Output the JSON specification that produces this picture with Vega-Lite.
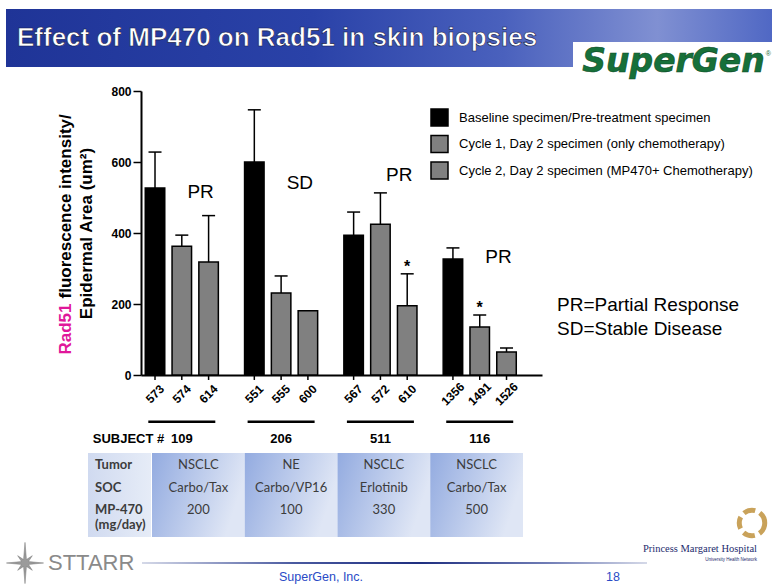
{
  "$schema": "https://vega.github.io/schema/vega-lite/v6.json",
  "width": 780,
  "height": 585,
  "autosize": {"type": "none"},
  "padding": 0,
  "background": "#ffffff",
  "config": {"font": "Liberation Sans", "view": {"stroke": null}, "axis": {"grid": false}},
  "datasets": {
    "bars": [
      {"subject": "109", "specimen": "573", "cycle": "Baseline specimen/Pre-treatment specimen", "value": 527, "upper": 628},
      {"subject": "109", "specimen": "574", "cycle": "Cycle 1, Day 2 specimen (only chemotherapy)", "value": 363, "upper": 394},
      {"subject": "109", "specimen": "614", "cycle": "Cycle 2, Day 2 specimen (MP470+ Chemotherapy)", "value": 318, "upper": 449},
      {"subject": "206", "specimen": "551", "cycle": "Baseline specimen/Pre-treatment specimen", "value": 600, "upper": 747},
      {"subject": "206", "specimen": "555", "cycle": "Cycle 1, Day 2 specimen (only chemotherapy)", "value": 231, "upper": 279},
      {"subject": "206", "specimen": "600", "cycle": "Cycle 2, Day 2 specimen (MP470+ Chemotherapy)", "value": 181, "upper": null},
      {"subject": "511", "specimen": "567", "cycle": "Baseline specimen/Pre-treatment specimen", "value": 394, "upper": 459},
      {"subject": "511", "specimen": "572", "cycle": "Cycle 1, Day 2 specimen (only chemotherapy)", "value": 425, "upper": 513},
      {"subject": "511", "specimen": "610", "cycle": "Cycle 2, Day 2 specimen (MP470+ Chemotherapy)", "value": 195, "upper": 285, "sig": "*"},
      {"subject": "116", "specimen": "1356", "cycle": "Baseline specimen/Pre-treatment specimen", "value": 327, "upper": 358},
      {"subject": "116", "specimen": "1491", "cycle": "Cycle 1, Day 2 specimen (only chemotherapy)", "value": 135, "upper": 169, "sig": "*"},
      {"subject": "116", "specimen": "1526", "cycle": "Cycle 2, Day 2 specimen (MP470+ Chemotherapy)", "value": 65, "upper": 76}
    ],
    "responses": [
      {"subject": "109", "cycle": "Cycle 2, Day 2 specimen (MP470+ Chemotherapy)", "response": "PR", "level": 515},
      {"subject": "206", "cycle": "Cycle 2, Day 2 specimen (MP470+ Chemotherapy)", "response": "SD", "level": 541},
      {"subject": "511", "cycle": "Cycle 2, Day 2 specimen (MP470+ Chemotherapy)", "response": "PR", "level": 563},
      {"subject": "116", "cycle": "Cycle 2, Day 2 specimen (MP470+ Chemotherapy)", "response": "PR", "level": 333}
    ],
    "regimens": [
      {"subject": "109", "item": "Tumor", "entry": "NSCLC"},
      {"subject": "206", "item": "Tumor", "entry": "NE"},
      {"subject": "511", "item": "Tumor", "entry": "NSCLC"},
      {"subject": "116", "item": "Tumor", "entry": "NSCLC"},
      {"subject": "109", "item": "SOC", "entry": "Carbo/Tax"},
      {"subject": "206", "item": "SOC", "entry": "Carbo/VP16"},
      {"subject": "511", "item": "SOC", "entry": "Erlotinib"},
      {"subject": "116", "item": "SOC", "entry": "Carbo/Tax"},
      {"subject": "109", "item": "MP-470", "entry": "200"},
      {"subject": "206", "item": "MP-470", "entry": "100"},
      {"subject": "511", "item": "MP-470", "entry": "330"},
      {"subject": "116", "item": "MP-470", "entry": "500"}
    ],
    "rowlabels": [
      {"item": "Tumor", "label": "Tumor"},
      {"item": "SOC", "label": "SOC"},
      {"item": "MP-470", "label": "MP-470\n(mg/day)"}
    ]
  },
  "resolve": {
    "scale": {"x": "independent", "y": "independent", "color": "independent", "opacity": "independent"},
    "axis": {"x": "independent", "y": "independent"}
  },
  "layer": [
    {
      "data": {"values": [{"heading": "Effect of MP470 on Rad51 in skin biopsies"}]},
      "encoding": {
        "x": {"field": "heading", "type": "nominal", "scale": {"type": "band", "range": [6, 772], "paddingInner": 0, "paddingOuter": 0}, "axis": null},
        "y": {"field": "heading", "type": "nominal", "scale": {"type": "band", "range": [9, 67], "paddingInner": 0, "paddingOuter": 0}, "axis": null}
      },
      "layer": [
        {"mark": {"type": "rect", "fill": {"gradient": "linear", "x1": 0, "y1": 0, "x2": 1, "y2": 0, "stops": [
          {"offset": 0, "color": "#1f3497"}, {"offset": 0.4, "color": "#2a42a8"}, {"offset": 0.65, "color": "#4a61bd"}, {"offset": 0.85, "color": "#8090d2"}, {"offset": 1, "color": "#5068c4"}]}}},
        {"mark": {"type": "text", "align": "left", "baseline": "middle", "fontSize": 26, "fontWeight": "bold", "fill": "#ffffff", "stroke": "#10164a", "strokeWidth": 0.6, "dx": 11, "dy": 0},
         "encoding": {"x": {"field": "heading", "type": "nominal", "bandPosition": 0, "axis": null}, "text": {"field": "heading"}}}
      ]
    },
    {
      "data": {"values": [{"brand": "SuperGen"}]},
      "encoding": {
        "x": {"field": "brand", "type": "nominal", "scale": {"type": "band", "range": [573, 772], "paddingInner": 0, "paddingOuter": 0}, "axis": null},
        "y": {"field": "brand", "type": "nominal", "scale": {"type": "band", "range": [42, 79], "paddingInner": 0, "paddingOuter": 0}, "axis": null}
      },
      "layer": [
        {"mark": {"type": "rect", "fill": "#ffffff"}},
        {"mark": {"type": "text", "font": "DejaVu Sans", "fontSize": 33, "fontWeight": "bold", "fontStyle": "italic", "fill": "#16703a", "stroke": "#0d4a25", "strokeWidth": 0.6, "align": "center", "baseline": "middle", "dx": 1, "dy": 1},
         "encoding": {"text": {"field": "brand"}}},
        {"mark": {"type": "text", "text": "®", "fontSize": 7, "fill": "#16703a", "align": "right", "baseline": "top", "dx": -1, "dy": 8},
         "encoding": {"x": {"field": "brand", "type": "nominal", "bandPosition": 1, "axis": null}, "y": {"field": "brand", "type": "nominal", "bandPosition": 0, "axis": null}}}
      ]
    },
    {
      "data": {"name": "bars"},
      "resolve": {"axis": {"y": "independent"}},
      "layer": [
        {
          "mark": {"type": "bar", "stroke": "#000000", "strokeWidth": 1.5},
          "encoding": {
            "x": {"field": "subject", "type": "nominal",
              "scale": {"type": "band", "domain": ["109", "206", "511", "116"], "range": [141, 542], "paddingInner": 0.264, "paddingOuter": 0.151, "align": 0.142},
              "axis": {"orient": "bottom", "offset": -210, "domainColor": "#000000", "domainWidth": 2, "ticks": false, "tickSize": 0, "labelAngle": 0, "labelPadding": 63, "labelBaseline": "middle", "labelFontSize": 13, "labelFontWeight": "bold", "labelColor": "#000000",
                "title": "SUBJECT #", "titleX": 128, "titleY": 63, "titleAlign": "center", "titleBaseline": "middle", "titleFontSize": 13, "titleFontWeight": "bold", "titleColor": "#000000"}},
            "xOffset": {"field": "cycle", "type": "nominal",
              "scale": {"domain": ["Baseline specimen/Pre-treatment specimen", "Cycle 1, Day 2 specimen (only chemotherapy)", "Cycle 2, Day 2 specimen (MP470+ Chemotherapy)"], "paddingInner": 0.272, "paddingOuter": 0}},
            "y": {"field": "value", "type": "quantitative",
              "scale": {"domain": [0, 800], "range": [375, 91], "nice": false, "zero": false},
              "axis": {"orient": "left", "offset": -141, "values": [0, 200, 400, 600, 800], "domainColor": "#000000", "domainWidth": 2, "tickColor": "#000000", "tickWidth": 1.5, "tickSize": 8, "labelPadding": 2, "labelFontSize": 12, "labelFontWeight": "bold", "labelColor": "#000000",
                "title": "Epidermal Area (um²)", "titleFontSize": 17, "titleFontWeight": "bold", "titleColor": "#000000", "titleAngle": 270, "titleAlign": "center", "titleBaseline": "middle", "titleX": -55, "titleY": 233}},
            "color": {"field": "cycle", "type": "nominal",
              "scale": {"domain": ["Baseline specimen/Pre-treatment specimen", "Cycle 1, Day 2 specimen (only chemotherapy)", "Cycle 2, Day 2 specimen (MP470+ Chemotherapy)"], "range": ["#000000", "#808080", "#808080"]},
              "legend": {"orient": "none", "legendX": 430, "legendY": 108, "title": null, "padding": 0, "symbolType": "square", "symbolSize": 289, "symbolStrokeColor": "#000000", "symbolStrokeWidth": 1.5, "labelFontSize": 13, "labelColor": "#000000", "labelOffset": 10, "rowPadding": 3.5, "labelLimit": 400}}
          }
        },
        {
          "transform": [{"filter": "datum.upper != null"}],
          "mark": {"type": "rule", "color": "#000000", "strokeWidth": 1.5},
          "encoding": {
            "x": {"field": "subject", "type": "nominal"},
            "xOffset": {"field": "cycle", "type": "nominal"},
            "y": {"field": "value", "type": "quantitative",
              "axis": {"orient": "left", "offset": -141, "labels": false, "ticks": false, "domain": false, "grid": false,
                "title": "Rad51", "titleColor": "#e0179a", "titleFontSize": 17, "titleFontWeight": "bold", "titleAngle": 270, "titleAlign": "right", "titleBaseline": "middle", "titleX": -76, "titleY": 303}},
            "y2": {"field": "upper"}
          }
        },
        {
          "transform": [{"filter": "datum.upper != null"}],
          "mark": {"type": "tick", "orient": "horizontal", "color": "#000000", "thickness": 1.5, "size": 13, "opacity": 1},
          "encoding": {
            "x": {"field": "subject", "type": "nominal"},
            "xOffset": {"field": "cycle", "type": "nominal"},
            "y": {"field": "upper", "type": "quantitative",
              "axis": {"orient": "left", "offset": -141, "labels": false, "ticks": false, "domain": false, "grid": false,
                "title": "fluorescence intensity/", "titleColor": "#000000", "titleFontSize": 17, "titleFontWeight": "bold", "titleAngle": 270, "titleAlign": "left", "titleBaseline": "middle", "titleX": -76, "titleY": 298}}
          }
        },
        {
          "mark": {"type": "rule", "color": "#000000", "strokeWidth": 1.5},
          "encoding": {
            "x": {"field": "subject", "type": "nominal"},
            "xOffset": {"field": "cycle", "type": "nominal"},
            "y": {"datum": 0, "type": "quantitative", "axis": null},
            "y2": {"datum": -14}
          }
        },
        {
          "mark": {"type": "text", "angle": 315, "align": "center", "baseline": "middle", "fontSize": 12, "fontWeight": "bold", "fill": "#000000", "dx": -13.5, "dy": 13.5},
          "encoding": {
            "x": {"field": "subject", "type": "nominal"},
            "xOffset": {"field": "cycle", "type": "nominal"},
            "y": {"datum": 0, "type": "quantitative", "axis": null},
            "text": {"field": "specimen"}
          }
        },
        {
          "transform": [{"filter": {"field": "cycle", "equal": "Baseline specimen/Pre-treatment specimen"}}],
          "mark": {"type": "tick", "orient": "horizontal", "color": "#000000", "thickness": 2.5, "size": 67, "opacity": 1},
          "encoding": {
            "x": {"field": "subject", "type": "nominal"},
            "y": {"datum": -132, "type": "quantitative", "axis": null}
          }
        },
        {
          "data": {"name": "responses"},
          "mark": {"type": "text", "fontSize": 19, "fill": "#000000", "align": "center", "baseline": "middle", "dx": -8},
          "encoding": {
            "x": {"field": "subject", "type": "nominal"},
            "xOffset": {"field": "cycle", "type": "nominal"},
            "y": {"field": "level", "type": "quantitative", "axis": null},
            "text": {"field": "response"},
            "opacity": {"field": "response", "type": "nominal", "scale": {"domain": ["PR", "SD"], "range": [1, 1]},
              "legend": {"orient": "none", "legendX": 538, "legendY": 295, "title": null, "padding": 0, "symbolSize": 0, "symbolStrokeWidth": 0, "symbolOpacity": 0, "labelFontSize": 19, "labelColor": "#000000", "labelOffset": 0, "rowPadding": 4, "labelLimit": 300,
                "labelExpr": "datum.label == 'PR' ? 'PR=Partial Response' : 'SD=Stable Disease'"}}
          }
        },
        {
          "transform": [{"filter": "datum.sig != null"}],
          "mark": {"type": "text", "fontSize": 16, "fontWeight": "bold", "fill": "#000000", "align": "center", "baseline": "alphabetic", "dy": -2},
          "encoding": {
            "x": {"field": "subject", "type": "nominal"},
            "xOffset": {"field": "cycle", "type": "nominal"},
            "y": {"field": "upper", "type": "quantitative", "axis": null},
            "text": {"field": "sig"}
          }
        }
      ]
    },
    {
      "data": {"values": [{"column": "labels"}]},
      "mark": {"type": "rect", "fill": {"gradient": "linear", "x1": 0, "y1": 0, "x2": 1, "y2": 0, "stops": [{"offset": 0, "color": "#d0daf0"}, {"offset": 1, "color": "#e6ecf7"}]}},
      "encoding": {
        "x": {"field": "column", "type": "nominal", "scale": {"type": "band", "range": [88, 151], "paddingInner": 0, "paddingOuter": 0}, "axis": null},
        "y": {"field": "column", "type": "nominal", "scale": {"type": "band", "range": [453, 537], "paddingInner": 0, "paddingOuter": 0}, "axis": null}
      }
    },
    {
      "data": {"name": "regimens"},
      "transform": [{"filter": {"field": "item", "equal": "Tumor"}}],
      "mark": {"type": "rect", "fill": {"gradient": "linear", "x1": 0, "y1": 0, "x2": 1, "y2": 0.3, "stops": [{"offset": 0, "color": "#93abe0"}, {"offset": 1, "color": "#dfe6f5"}]}},
      "encoding": {
        "x": {"field": "subject", "type": "nominal", "scale": {"type": "band", "domain": ["109", "206", "511", "116"], "range": [152, 523], "paddingInner": 0, "paddingOuter": 0}, "axis": null},
        "y": {"field": "item", "type": "nominal", "scale": {"type": "band", "range": [453, 537], "paddingInner": 0, "paddingOuter": 0}, "axis": null}
      }
    },
    {
      "data": {"name": "regimens"},
      "mark": {"type": "text", "font": "Lato", "fontSize": 13, "fill": "#3c3c3c", "align": "center", "baseline": "top"},
      "encoding": {
        "x": {"field": "subject", "type": "nominal", "scale": {"type": "band", "domain": ["109", "206", "511", "116"], "range": [152, 523], "paddingInner": 0, "paddingOuter": 0}, "axis": null},
        "y": {"field": "item", "type": "nominal", "scale": {"type": "point", "domain": ["Tumor", "SOC", "MP-470"], "range": [459, 504], "padding": 0}, "axis": null},
        "text": {"field": "entry"}
      }
    },
    {
      "data": {"name": "rowlabels"},
      "mark": {"type": "text", "font": "Lato", "fontSize": 13, "fontWeight": "bold", "fill": "#3c3c3c", "align": "left", "baseline": "top", "lineBreak": "\n", "lineHeight": 15},
      "encoding": {
        "x": {"field": "item", "type": "nominal", "scale": {"type": "point", "range": [95, 95], "padding": 0}, "axis": null},
        "y": {"field": "item", "type": "nominal", "scale": {"type": "point", "domain": ["Tumor", "SOC", "MP-470"], "range": [459, 504], "padding": 0}, "axis": null},
        "text": {"field": "label"}
      }
    },
    {
      "data": {"values": [{"footer": "rule"}]},
      "mark": {"type": "rect", "fill": {"gradient": "linear", "x1": 0, "y1": 0, "x2": 1, "y2": 0, "stops": [{"offset": 0, "color": "#d5d9e8"}, {"offset": 0.3, "color": "#4a5aa0"}, {"offset": 0.55, "color": "#1f2f80"}, {"offset": 0.8, "color": "#6f7cb5"}, {"offset": 1, "color": "#d5d9e8"}]}},
      "encoding": {
        "x": {"field": "footer", "type": "nominal", "scale": {"type": "band", "range": [142, 647], "paddingInner": 0, "paddingOuter": 0}, "axis": null},
        "y": {"field": "footer", "type": "nominal", "scale": {"type": "band", "range": [562, 564], "paddingInner": 0, "paddingOuter": 0}, "axis": null}
      }
    },
    {
      "data": {"values": [{"part": "footer", "note": "SuperGen, Inc."}, {"part": "footer", "note": "18"}]},
      "mark": {"type": "text", "fontSize": 12.5, "fill": "#2a4bc6", "align": "center", "baseline": "middle"},
      "encoding": {
        "x": {"field": "note", "type": "nominal", "scale": {"type": "point", "domain": ["SuperGen, Inc.", "18"], "range": [321, 613], "padding": 0}, "axis": null},
        "y": {"field": "part", "type": "nominal", "scale": {"type": "point", "range": [577, 577], "padding": 0}, "axis": null},
        "text": {"field": "note"}
      }
    },
    {
      "data": {"values": [{"logo": "STTARR"}]},
      "encoding": {
        "x": {"field": "logo", "type": "nominal", "scale": {"type": "point", "range": [25, 25], "padding": 0}, "axis": null},
        "y": {"field": "logo", "type": "nominal", "scale": {"type": "point", "range": [563, 563], "padding": 0}, "axis": null}
      },
      "layer": [
        {"mark": {"type": "point", "shape": "M0,-1L0.069,-0.166L0.354,-0.354L0.166,-0.069L0.9,0L0.166,0.069L0.354,0.354L0.069,0.166L0,1L-0.069,0.166L-0.354,0.354L-0.166,0.069L-0.9,0L-0.166,-0.069L-0.354,-0.354L-0.069,-0.166Z", "size": 1700, "filled": true, "fill": "#9b9b9b", "stroke": "#777777", "strokeWidth": 0.5, "opacity": 1}},
        {"mark": {"type": "text", "align": "left", "baseline": "middle", "dx": 23, "fontSize": 22, "fill": "#8a8a8a"}, "encoding": {"text": {"field": "logo"}}}
      ]
    },
    {
      "data": {"values": [{"org": "Princess Margaret Hospital", "unit": "University Health Network"}]},
      "mark": {"type": "point", "shape": "circle", "size": 650, "filled": false, "stroke": "#c9a25a", "strokeWidth": 5, "strokeDash": [12, 5], "opacity": 1},
      "encoding": {
        "x": {"field": "org", "type": "nominal", "scale": {"type": "point", "range": [752, 752], "padding": 0}, "axis": null},
        "y": {"field": "org", "type": "nominal", "scale": {"type": "point", "range": [523, 523], "padding": 0}, "axis": null}
      }
    },
    {
      "data": {"values": [{"org": "Princess Margaret Hospital", "unit": "University Health Network"}]},
      "encoding": {
        "x": {"field": "org", "type": "nominal", "scale": {"type": "point", "range": [757, 757], "padding": 0}, "axis": null},
        "y": {"field": "org", "type": "nominal", "scale": {"type": "point", "range": [549, 549], "padding": 0}, "axis": null}
      },
      "layer": [
        {"mark": {"type": "text", "font": "Liberation Serif", "fontSize": 10.5, "fill": "#1d2b6e", "align": "right", "baseline": "middle"}, "encoding": {"text": {"field": "org"}}},
        {"mark": {"type": "text", "fontSize": 4.5, "fill": "#1d2b6e", "align": "right", "baseline": "middle", "dy": 11}, "encoding": {"text": {"field": "unit"}}}
      ]
    }
  ]
}
